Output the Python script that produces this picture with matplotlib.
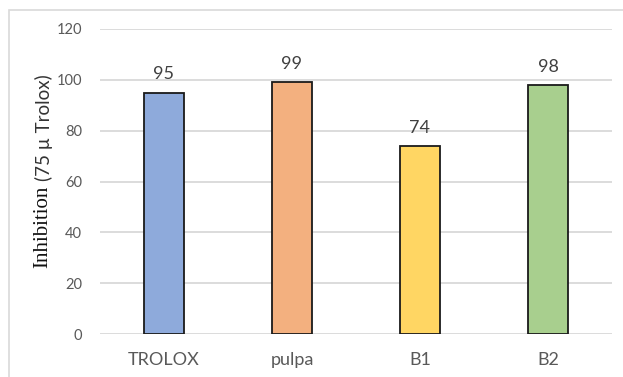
import matplotlib
matplotlib.use("Agg")
import matplotlib.pyplot as plt
from matplotlib.patches import Rectangle

categories = ["TROLOX", "pulpa", "B1", "B2"]
values = [95, 99, 74, 98]
bar_colors = ["#8eaadb", "#f3b07f", "#ffd663", "#a8cf8e"]
y_ticks = [0, 20, 40, 60, 80, 100, 120]

W, H = 623, 377
fig = plt.figure(figsize=(W / 100, H / 100), dpi=100)

# light frame around the chart area
fig.patches.append(Rectangle((9 / W, -0.1), 1.2, 1 - 10 / H + 0.1,
                             transform=fig.transFigure, fill=False,
                             edgecolor="#d9d9d9", linewidth=1.2))

ax = fig.add_axes([100 / W, 1 - 334 / H, 512 / W, 305 / H])
x = range(len(categories))
ax.bar(x, values, width=0.3125, color=bar_colors, edgecolor="#1a1a1a",
       linewidth=1.3, zorder=3)
for xi, v in zip(x, values):
    ax.text(xi, v + 4, f"{v}", ha="center", va="bottom", fontsize=13,
            family="Lato", color="#404040")

ax.set_xlim(-0.5, len(categories) - 0.5)
ax.set_ylim(0, 120)
ax.set_yticks(y_ticks)
ax.set_xticks(list(x))
ax.set_xticklabels(categories)
ax.grid(axis="y", color="#d9d9d9", linewidth=1.3, zorder=0)
for s in ax.spines.values():
    s.set_visible(False)
ax.tick_params(axis="both", length=0, colors="#595959")
ax.tick_params(axis="y", labelsize=10.5, pad=13)
ax.tick_params(axis="x", labelsize=13, pad=13)
for lab in ax.get_xticklabels() + ax.get_yticklabels():
    lab.set_family("Lato")

# y-axis title: serif word followed by a sans-serif unit
t1 = fig.text(43 / W, 1 - 268 / H, "Inhibition", rotation=90, ha="center",
              va="bottom", family="Liberation Serif", fontsize=15,
              color="#111111")
fig.canvas.draw()
bb = t1.get_window_extent()
fig.text(44 / W, (bb.y1 + 5) / H, "(75 µ Trolox)", rotation=90, ha="center",
         va="bottom", family="Lato", fontsize=13.5, color="#333333")

fig.savefig("out.png", dpi=100)
